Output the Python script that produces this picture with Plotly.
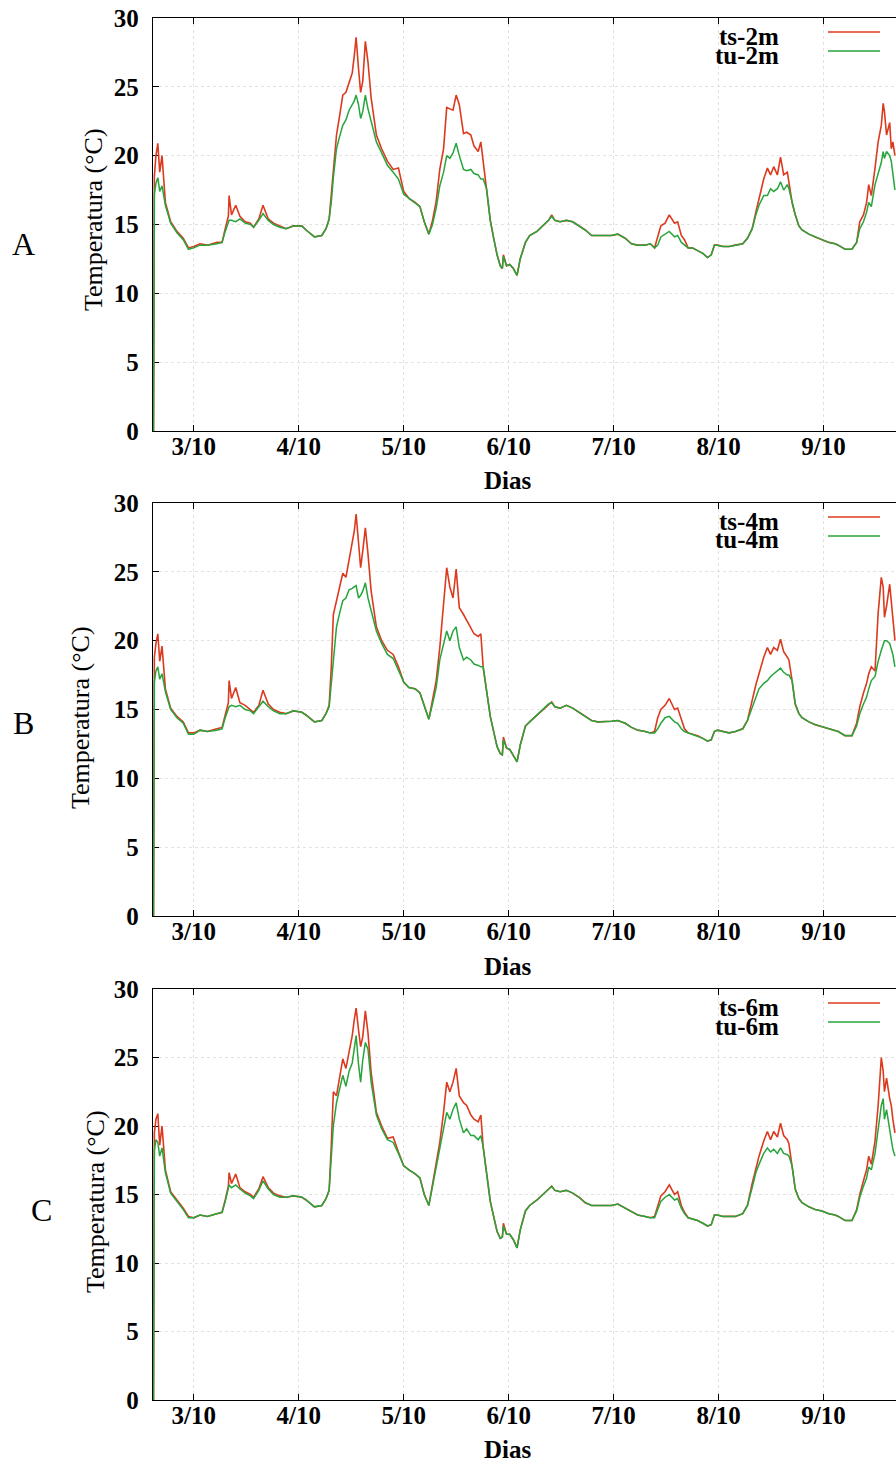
import plotly.graph_objects as go

# ---------------- data (days of October, temperature in degC) ----------------
dias = [
    2.617, 2.625, 2.64, 2.658, 2.676, 2.698, 2.73, 2.78, 2.84, 2.90,
    2.95, 3.00, 3.06, 3.13, 3.22, 3.27, 3.30, 3.33, 3.337, 3.36,
    3.40, 3.44, 3.49, 3.54, 3.57, 3.62, 3.66, 3.71, 3.76, 3.82,
    3.88, 3.95, 4.03, 4.07, 4.15, 4.22, 4.26, 4.29,
    4.31, 4.33, 4.36, 4.39, 4.42, 4.45, 4.48, 4.51, 4.53, 4.547,
    4.57, 4.59, 4.61, 4.635, 4.66, 4.69, 4.74, 4.79, 4.845, 4.90,
    4.95, 5.00, 5.05, 5.11, 5.155, 5.196, 5.24, 5.275, 5.31, 5.344,
    5.38, 5.41, 5.44, 5.47, 5.50, 5.53, 5.57, 5.60, 5.64, 5.67,
    5.71, 5.735, 5.757,
    5.79, 5.825, 5.86, 5.89, 5.92, 5.94, 5.95, 5.98, 6.01, 6.045,
    6.08, 6.11, 6.16, 6.20, 6.27, 6.33, 6.38, 6.41, 6.44, 6.49,
    6.55, 6.61, 6.67, 6.73, 6.79, 6.85, 6.92, 6.98, 7.04, 7.11,
    7.17, 7.23, 7.30, 7.35,
    7.39, 7.42, 7.45, 7.49, 7.53, 7.58, 7.61, 7.645, 7.675, 7.71,
    7.75, 7.80, 7.85, 7.895, 7.93, 7.96, 7.99, 8.04, 8.10, 8.16,
    8.23, 8.275, 8.32, 8.355, 8.385, 8.43, 8.465, 8.495, 8.525, 8.56,
    8.59, 8.62, 8.655, 8.67, 8.70, 8.73, 8.765, 8.795, 8.86, 8.92,
    8.985, 9.05, 9.11, 9.14, 9.205, 9.27, 9.315, 9.345, 9.38, 9.41,
    9.43, 9.455, 9.49, 9.52, 9.55, 9.568, 9.58, 9.60, 9.63, 9.645,
    9.66, 9.68,
]

ts_2m = [
    0, 18.5, 20.0, 20.9, 18.8, 20.0, 16.6, 15.2, 14.5, 14.0,
    13.3, 13.4, 13.6, 13.5, 13.7, 13.7, 14.7, 15.6, 17.1, 15.7,
    16.4, 15.6, 15.2, 15.1, 14.8, 15.4, 16.4, 15.4, 15.1, 14.9,
    14.7, 14.9, 14.9, 14.6, 14.1, 14.2, 14.7, 15.4,
    17.0, 19.0, 21.5, 22.9, 24.4, 24.6, 25.3, 26.0, 27.3, 28.6,
    26.3, 24.6, 25.4, 28.3, 26.8, 24.2, 21.5, 20.5, 19.6, 19.0,
    19.1, 17.4, 16.9, 16.6, 16.3, 15.2, 14.3, 15.3, 16.7, 19.0,
    20.5, 23.5, 23.4, 23.3, 24.4, 23.7, 21.6, 21.7, 21.5, 20.7,
    20.3, 21.0, 19.6,
    17.6, 15.3, 13.9, 12.8, 12.0, 11.8, 12.8, 12.0, 12.1, 11.8,
    11.3, 12.5, 13.7, 14.2, 14.5, 14.9, 15.3, 15.7, 15.3, 15.2,
    15.3, 15.2, 14.9, 14.6, 14.2, 14.2, 14.2, 14.2, 14.3, 14.0,
    13.6, 13.5, 13.5, 13.6,
    13.3, 14.2, 14.9, 15.1, 15.7, 15.1, 15.2, 14.2, 13.9, 13.3,
    13.3, 13.1, 12.9, 12.6, 12.8, 13.5, 13.5, 13.4, 13.4, 13.5,
    13.6, 14.0, 14.7, 15.9, 16.9, 18.3, 19.1, 18.6, 19.2, 18.6,
    19.9, 18.6, 18.8, 18.1, 16.6, 15.7, 14.9, 14.6, 14.3, 14.1,
    13.9, 13.7, 13.6, 13.5, 13.2, 13.2, 13.7, 15.2, 15.7, 16.6,
    17.9, 17.1, 19.1, 21.0, 22.2, 23.8, 23.2, 21.5, 22.4, 20.5,
    21.0, 20.0,
]

tu_2m = [
    0, 17.2, 18.0, 18.4, 17.4, 17.8, 16.4, 15.1, 14.4, 13.9,
    13.2, 13.3, 13.5, 13.5, 13.6, 13.7, 14.5, 15.2, 15.3, 15.3,
    15.2, 15.4, 15.1, 15.0, 14.8, 15.3, 15.8, 15.3, 15.0, 14.8,
    14.7, 14.9, 14.9, 14.6, 14.1, 14.2, 14.7, 15.4,
    16.6, 18.4, 20.5, 21.4, 22.2, 22.6, 23.3, 23.7, 24.0, 24.4,
    23.7, 22.7, 23.2, 24.4, 23.4, 22.5, 21.0, 20.2, 19.3, 18.8,
    18.3, 17.2, 16.9, 16.6, 16.3, 15.2, 14.3, 15.0, 16.2, 17.8,
    18.8, 20.0, 19.8, 20.2, 20.9, 20.0, 19.0, 18.9, 19.0, 18.7,
    18.6, 18.3, 18.3,
    17.6, 15.3, 13.9, 12.8, 12.0, 11.8, 12.7, 12.0, 12.1, 11.8,
    11.3, 12.5, 13.7, 14.2, 14.5, 14.9, 15.3, 15.6, 15.3, 15.2,
    15.3, 15.2, 14.9, 14.6, 14.2, 14.2, 14.2, 14.2, 14.3, 14.0,
    13.6, 13.5, 13.5, 13.6,
    13.3, 13.5, 14.1, 14.3, 14.5, 14.1, 14.2, 13.7, 13.5, 13.3,
    13.3, 13.1, 12.9, 12.6, 12.8, 13.5, 13.5, 13.4, 13.4, 13.5,
    13.6, 14.0, 14.7, 15.7, 16.4, 17.1, 17.1, 17.6, 17.4, 17.6,
    18.1, 17.5, 17.9, 17.6, 16.6, 15.7, 14.9, 14.6, 14.3, 14.1,
    13.9, 13.7, 13.6, 13.5, 13.2, 13.2, 13.7, 14.7, 15.2, 15.9,
    16.6, 16.3, 17.9, 18.8, 19.5, 20.3, 19.8, 20.3, 20.0, 19.6,
    18.6, 17.5,
]

ts_4m = [
    0, 18.8, 19.8, 20.5, 18.5, 19.6, 16.5, 15.1, 14.5, 14.1,
    13.3, 13.3, 13.5, 13.4, 13.6, 13.7, 14.6, 15.5, 17.1, 15.8,
    16.6, 15.5, 15.3, 15.0, 14.8, 15.3, 16.4, 15.4, 15.0, 14.8,
    14.7, 14.9, 14.8, 14.6, 14.1, 14.2, 14.7, 15.3,
    18.0, 21.9, 22.9, 23.8, 24.9, 24.6, 25.8, 27.2, 28.0, 29.2,
    27.0, 25.3, 26.5, 28.2, 26.3, 23.6, 21.0, 20.0, 19.3, 19.0,
    18.1, 17.0, 16.6, 16.5, 16.2, 15.2, 14.3, 15.7, 17.1, 19.5,
    22.9, 25.3, 23.9, 23.1, 25.2, 22.4, 21.9, 21.5, 21.0, 20.5,
    20.3, 20.5, 18.1,
    16.2, 14.5, 13.3, 12.3, 11.8, 11.7, 13.0, 12.2, 12.1, 11.6,
    11.2, 12.4, 13.8, 14.1, 14.6, 15.0, 15.4, 15.55, 15.2, 15.1,
    15.3, 15.1, 14.8, 14.5, 14.2, 14.1, 14.1, 14.15, 14.2, 14.0,
    13.7, 13.5, 13.4, 13.3,
    13.4, 14.4, 15.0, 15.3, 15.8, 15.0, 15.1, 14.2, 13.6, 13.3,
    13.2, 13.1, 12.9, 12.7, 12.8, 13.4, 13.5, 13.4, 13.3, 13.4,
    13.6, 14.2, 15.7, 16.8, 17.6, 18.8, 19.5, 19.0, 19.5, 19.3,
    20.1, 19.2, 18.8, 18.6, 17.1, 15.4, 14.7, 14.4, 14.1, 13.9,
    13.75, 13.6, 13.5, 13.4, 13.1, 13.1, 14.0, 15.2, 16.2, 16.9,
    17.6, 18.1, 17.8, 22.0, 24.6, 23.9, 21.7, 22.5, 24.1, 22.8,
    21.7, 20.0,
]

tu_4m = [
    0, 17.0, 17.8, 18.1, 17.2, 17.6, 16.3, 15.0, 14.4, 14.0,
    13.2, 13.2, 13.5, 13.4, 13.5, 13.6, 14.4, 15.1, 15.2, 15.3,
    15.2, 15.3, 15.0, 14.9, 14.7, 15.2, 15.6, 15.2, 14.9, 14.7,
    14.7, 14.9, 14.8, 14.6, 14.1, 14.2, 14.7, 15.2,
    16.8, 18.5, 21.0, 22.0, 22.9, 23.1, 23.7, 23.8, 23.9, 24.0,
    23.1, 23.3, 23.6, 24.2, 23.1, 22.2, 20.7, 19.8, 19.0, 18.7,
    17.8, 17.0, 16.6, 16.5, 16.2, 15.2, 14.3, 15.4, 16.6, 18.6,
    19.8, 20.7, 20.0, 20.7, 21.0, 19.5, 18.6, 18.8, 18.6, 18.3,
    18.2, 18.1, 18.1,
    16.2, 14.5, 13.3, 12.3, 11.8, 11.7, 12.8, 12.2, 12.1, 11.6,
    11.2, 12.4, 13.8, 14.1, 14.6, 15.0, 15.4, 15.5, 15.2, 15.1,
    15.3, 15.1, 14.8, 14.5, 14.2, 14.1, 14.1, 14.15, 14.2, 14.0,
    13.7, 13.5, 13.4, 13.3,
    13.3, 13.6, 14.0, 14.4, 14.5, 14.1, 14.0, 13.6, 13.4, 13.3,
    13.2, 13.1, 12.9, 12.7, 12.8, 13.4, 13.5, 13.4, 13.3, 13.4,
    13.6, 14.2, 15.2, 16.0, 16.5, 16.9, 17.1, 17.4, 17.6, 17.8,
    18.0, 17.7, 17.5, 17.5, 17.1, 15.4, 14.7, 14.4, 14.1, 13.9,
    13.75, 13.6, 13.5, 13.4, 13.1, 13.1, 13.8, 14.7, 15.4, 15.9,
    16.5, 17.1, 17.4, 18.5, 19.3, 19.8, 20.0, 20.0, 19.8, 19.4,
    19.0, 18.1,
]

ts_6m = [
    0, 19.5, 20.5, 20.9, 18.6, 20.0, 16.8, 15.2, 14.6, 14.0,
    13.4, 13.3, 13.5, 13.4, 13.6, 13.7, 14.6, 15.6, 16.6, 15.8,
    16.5, 15.5, 15.2, 15.0, 14.8, 15.4, 16.3, 15.5, 15.1, 14.9,
    14.8, 14.9, 14.8, 14.6, 14.1, 14.2, 14.7, 15.3,
    18.5, 22.5, 22.2, 23.5, 24.9, 24.2, 25.5, 26.6, 27.8, 28.6,
    27.0, 25.8, 26.5, 28.4, 26.8, 23.9, 21.0, 20.0, 19.1, 19.2,
    18.1, 17.1, 16.8, 16.5, 16.2, 15.0, 14.2, 15.7, 17.4, 18.8,
    21.0, 23.2, 22.5, 23.2, 24.2, 22.2, 21.7, 21.5, 20.8, 20.5,
    20.3, 20.8, 18.5,
    16.4, 14.5, 13.3, 12.3, 11.8, 11.9, 12.9, 12.1, 12.1, 11.7,
    11.1, 12.4, 13.8, 14.2, 14.6, 15.0, 15.4, 15.6, 15.3, 15.2,
    15.3, 15.1, 14.8, 14.4, 14.2, 14.2, 14.2, 14.2, 14.3, 14.0,
    13.7, 13.5, 13.4, 13.3,
    13.4, 14.2, 14.9, 15.2, 15.7, 15.0, 15.2, 14.2, 13.7, 13.3,
    13.2, 13.1, 12.9, 12.7, 12.8, 13.5, 13.5, 13.4, 13.4, 13.4,
    13.6, 14.2, 15.8, 17.0, 17.8, 18.9, 19.6, 19.0, 19.6, 19.2,
    20.2, 19.3, 19.0, 18.7, 17.1, 15.4, 14.7, 14.4, 14.1, 13.9,
    13.8, 13.6, 13.5, 13.4, 13.1, 13.1, 13.9, 15.0, 16.0, 16.8,
    17.8, 17.2, 18.9, 21.5, 25.0, 24.0, 22.5, 23.5, 22.0, 21.5,
    20.5, 19.5,
]

tu_6m = [
    0, 18.2, 19.0, 18.8, 17.8, 18.4, 16.6, 15.1, 14.5, 13.9,
    13.3, 13.3, 13.5, 13.4, 13.6, 13.7, 14.5, 15.4, 15.7, 15.5,
    15.7, 15.4, 15.1, 14.9, 14.7, 15.3, 16.0, 15.4, 15.0, 14.8,
    14.8, 14.9, 14.8, 14.6, 14.1, 14.2, 14.7, 15.3,
    17.5, 20.0, 21.7, 22.6, 23.7, 22.9, 24.0, 24.6, 25.8, 26.6,
    24.5, 23.2, 24.8, 26.1, 25.6, 23.2, 20.8, 19.8, 19.0, 18.8,
    18.0, 17.1, 16.8, 16.5, 16.2, 15.0, 14.2, 15.6, 16.9, 18.1,
    19.8, 21.0, 20.5, 21.2, 21.7, 20.5, 19.5, 19.8, 19.3, 19.3,
    19.0, 19.3, 18.5,
    16.4, 14.5, 13.3, 12.3, 11.8, 11.9, 12.7, 12.1, 12.1, 11.7,
    11.1, 12.4, 13.8, 14.2, 14.6, 15.0, 15.4, 15.6, 15.3, 15.2,
    15.3, 15.1, 14.8, 14.4, 14.2, 14.2, 14.2, 14.2, 14.3, 14.0,
    13.7, 13.5, 13.4, 13.3,
    13.3, 13.9, 14.5, 14.8, 15.0, 14.6, 14.7, 14.0, 13.6, 13.3,
    13.2, 13.1, 12.9, 12.7, 12.8, 13.5, 13.5, 13.4, 13.4, 13.4,
    13.6, 14.2, 15.5, 16.6, 17.2, 18.0, 18.4, 18.1, 18.3, 18.0,
    18.4, 18.0, 17.9, 17.8, 17.1, 15.4, 14.7, 14.4, 14.1, 13.9,
    13.8, 13.6, 13.5, 13.4, 13.1, 13.1, 13.8, 14.8, 15.6, 16.2,
    17.0, 16.8, 18.0, 19.8, 21.5, 22.0, 20.5, 21.2, 19.5, 19.0,
    18.3, 17.8,
]

tick_days = [3, 4, 5, 6, 7, 8, 9]
tick_labels = ["3/10", "4/10", "5/10", "6/10", "7/10", "8/10", "9/10"]
y_ticks = [0, 5, 10, 15, 20, 25, 30]
panel_letters = ["A", "B", "C"]
series_names = [("ts-2m", "tu-2m"), ("ts-4m", "tu-4m"), ("ts-6m", "tu-6m")]
series_values = [(ts_2m, tu_2m), (ts_4m, tu_4m), (ts_6m, tu_6m)]

# ---------------- layout geometry (pixels) ----------------
W, H = 896, 1463
LEFT = 153
panel_px = [(18, 431), (503, 916), (989, 1400)]
ytitle_px = [(93, 220), (80, 718), (95, 1202)]
letter_px = [(23, 244), (23, 723), (41, 1210)]
dias_py = [480, 966, 1449]

RED = "#dc3a1f"
GREEN = "#27a53c"
SERIF = "Liberation Serif, Times New Roman, serif"


def px(x):
    return x / W


def py(y):
    return 1 - y / H


fig = go.Figure()
annotations = []
shapes = []

for i in range(3):
    sfx = "" if i == 0 else str(i + 1)
    top, bot = panel_px[i]
    ts_vals, tu_vals = series_values[i]
    ts_name, tu_name = series_names[i]
    fig.add_trace(go.Scatter(x=dias, y=ts_vals, mode="lines", name=ts_name,
                             line=dict(color=RED, width=1.6),
                             xaxis="x" + sfx, yaxis="y" + sfx, showlegend=False))
    fig.add_trace(go.Scatter(x=dias, y=tu_vals, mode="lines", name=tu_name,
                             line=dict(color=GREEN, width=1.5),
                             xaxis="x" + sfx, yaxis="y" + sfx, showlegend=False))

    fig.update_layout(**{
        "xaxis" + sfx: dict(
            domain=[px(LEFT), 1.0], anchor="y" + sfx, range=[2.612, 9.69],
            tickmode="array", tickvals=tick_days, ticktext=tick_labels,
            ticks="inside", ticklen=6, tickcolor="black", tickwidth=1,
            showline=True, linecolor="black", linewidth=1.3, mirror="ticks",
            showgrid=True, gridcolor="#e2e2e2", griddash="dot", gridwidth=1,
            zeroline=False, layer="below traces",
            tickfont=dict(family=SERIF, size=25, color="black", weight="bold"),
            ticklabelstandoff=-7, automargin=False, fixedrange=True,
        ),
        "yaxis" + sfx: dict(
            domain=[py(bot), py(top)], anchor="x" + sfx, range=[0, 30],
            tickmode="array", tickvals=y_ticks,
            ticks="inside", ticklen=6, tickcolor="black", tickwidth=1,
            showline=True, linecolor="black", linewidth=1.3, mirror=False,
            showgrid=True, gridcolor="#e2e2e2", griddash="dot", gridwidth=1,
            zeroline=False, layer="below traces",
            tickfont=dict(family=SERIF, size=25, color="black", weight="bold"),
            ticklabelstandoff=8, automargin=False, fixedrange=True,
        ),
    })

    # axis titles and panel letter
    annotations.append(dict(text="Dias", x=px(508), y=py(dias_py[i]), xref="paper", yref="paper",
                            xanchor="center", yanchor="middle", showarrow=False,
                            font=dict(family=SERIF, size=25, color="black", weight="bold")))
    tx, tyc = ytitle_px[i]
    annotations.append(dict(text="Temperatura (°C)", x=px(tx), y=py(tyc), xref="paper", yref="paper",
                            xanchor="center", yanchor="middle", showarrow=False, textangle=-90,
                            font=dict(family=SERIF, size=26, color="black")))
    lx, ly = letter_px[i]
    annotations.append(dict(text=panel_letters[i], x=px(lx), y=py(ly), xref="paper", yref="paper",
                            xanchor="center", yanchor="middle", showarrow=False,
                            font=dict(family=SERIF, size=32, color="black")))

    # key (gnuplot style: text then sample line)
    for k, (name, col) in enumerate([(ts_name, RED), (tu_name, GREEN)]):
        text_y = top + 18 + 19 * k
        line_y = top + 14 + 19 * k
        annotations.append(dict(text=name, x=px(781), y=py(text_y), xref="paper", yref="paper",
                                xanchor="right", yanchor="middle", showarrow=False,
                                font=dict(family=SERIF, size=25, color="black", weight="bold")))
        shapes.append(dict(type="line", xref="paper", yref="paper",
                           x0=px(828), x1=px(880), y0=py(line_y), y1=py(line_y),
                           line=dict(color=col, width=1.5)))

fig.update_layout(
    width=W, height=H, autosize=False,
    margin=dict(l=0, r=0, t=0, b=0, pad=0),
    paper_bgcolor="white", plot_bgcolor="white",
    showlegend=False,
    annotations=annotations, shapes=shapes,
)

fig.write_html("out.html")
